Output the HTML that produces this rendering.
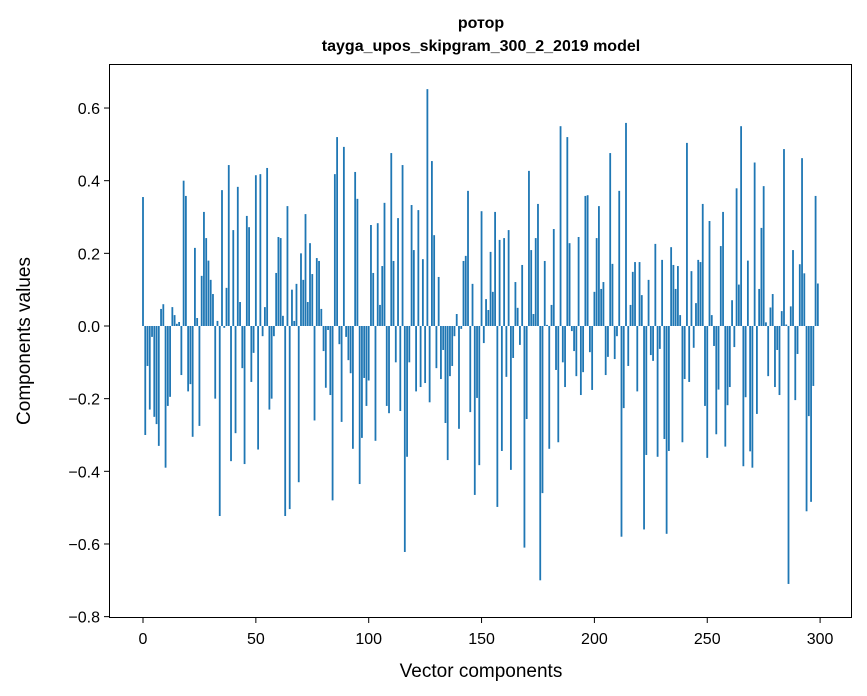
<!DOCTYPE html>
<html><head><meta charset="utf-8"><style>
body{margin:0;background:#fff}
svg{display:block;font-family:"Liberation Sans","Noto Sans CJK JP",sans-serif}
</style></head><body>
<svg id="chart" width="867" height="696">
<text x="481" y="28" text-anchor="middle" font-size="16" font-weight="bold">ротор</text>
<text x="481" y="51" text-anchor="middle" font-size="16" font-weight="bold">tayga_upos_skipgram_300_2_2019 model</text>
<g id="bars"></g>
<g id="xticks"></g>
<g id="yticks"></g>
<rect x="109.5" y="64.5" width="742" height="553" fill="none" stroke="#000" stroke-width="1"/>
<text x="481" y="677" text-anchor="middle" font-size="19">Vector components</text>
<text transform="translate(30,341) rotate(-90)" text-anchor="middle" font-size="19">Components values</text>
</svg>
<script>
const values = [
0.355,-0.30,-0.11,-0.23,-0.03,-0.25,-0.27,-0.33,0.047,0.06,
-0.39,-0.22,-0.195,0.052,0.03,0.006,0.011,-0.135,0.40,0.358,
-0.18,-0.16,-0.305,0.215,0.022,-0.275,0.138,0.314,0.242,0.18,
0.127,0.088,-0.2,0.014,-0.523,0.374,-0.005,0.105,0.443,-0.372,
0.264,-0.295,0.383,0.066,-0.116,-0.38,0.303,0.272,-0.154,-0.074,
0.415,-0.34,0.418,-0.028,0.052,0.435,-0.23,-0.2,-0.028,0.146,
0.245,0.242,0.028,-0.523,0.33,-0.504,0.1,0.014,0.116,-0.43,
0.2,0.127,0.308,0.066,0.228,0.143,-0.26,0.187,0.179,0.047,
-0.069,-0.17,-0.011,-0.19,-0.48,0.418,0.52,-0.05,-0.264,0.493,
-0.03,-0.094,-0.13,-0.338,0.424,0.35,-0.435,-0.308,-0.143,-0.22,
-0.15,0.278,0.146,-0.316,0.283,0.058,0.165,0.339,-0.22,-0.24,
0.476,0.179,-0.1,0.297,-0.234,0.443,-0.622,-0.36,-0.1,0.333,
0.209,-0.18,0.319,-0.168,0.184,-0.157,0.652,-0.21,0.454,0.25,
-0.116,0.135,-0.146,-0.066,-0.267,-0.369,-0.138,-0.11,-0.028,0.033,
-0.283,-0.008,0.179,0.193,0.372,-0.237,0.116,-0.465,-0.198,-0.383,
0.316,-0.047,0.074,0.044,0.204,0.094,0.314,-0.498,0.237,-0.344,
0.242,-0.14,0.264,-0.396,-0.088,0.121,0.05,-0.052,0.168,-0.61,
-0.256,0.427,0.209,0.033,0.242,0.336,-0.70,-0.46,0.179,0.003,
-0.338,0.058,0.267,-0.121,-0.32,0.55,-0.1,-0.168,0.52,0.228,
-0.014,-0.069,-0.138,0.245,-0.19,-0.127,0.358,0.36,-0.072,-0.176,
0.094,0.242,0.33,0.102,0.121,-0.135,-0.085,0.476,0.171,-0.091,
-0.028,0.372,-0.58,-0.226,0.559,-0.11,0.058,0.149,0.176,-0.18,
0.176,0.085,-0.56,-0.355,0.127,-0.08,-0.096,0.226,-0.36,-0.063,
0.182,-0.311,-0.572,-0.344,0.217,0.168,0.102,0.165,0.03,-0.32,
-0.146,0.504,-0.154,0.151,-0.06,0.063,0.182,0.176,0.336,-0.22,
-0.363,0.289,0.03,-0.055,-0.298,-0.175,0.22,0.314,-0.332,-0.218,
-0.168,0.071,-0.058,0.379,0.114,0.55,-0.386,-0.196,0.18,-0.345,
-0.39,0.45,-0.242,0.102,0.27,0.385,0.01,-0.138,0.051,0.088,
-0.168,-0.066,-0.19,0.041,0.487,0.004,-0.71,0.054,0.209,-0.204,
-0.077,0.17,0.462,0.145,-0.51,-0.248,-0.484,-0.165,0.358,0.117
];
const xTickValues = [0,50,100,150,200,250,300];
const yTickValues = [-0.8,-0.6,-0.4,-0.2,0.0,0.2,0.4,0.6];
const yTickLabels = ["\u22120.8","\u22120.6","\u22120.4","\u22120.2","0.0","0.2","0.4","0.6"];

const NS = "http://www.w3.org/2000/svg";
function xScale(i){ return 143 + i * 2.257; }
function yScale(v){ return 326 - v * 363.3; }
const barW = 1.8;
const barsG = document.getElementById('bars');
values.forEach(function(v, i){
  const r = document.createElementNS(NS, 'rect');
  const y0 = yScale(0), y1 = yScale(v);
  r.setAttribute('x', xScale(i) - barW/2);
  r.setAttribute('y', Math.min(y0, y1));
  r.setAttribute('width', barW);
  r.setAttribute('height', Math.max(Math.abs(y1 - y0), 0.3));
  r.setAttribute('fill', '#1f77b4');
  
  
  barsG.appendChild(r);
});
const xg = document.getElementById('xticks');
xTickValues.forEach(function(t){
  const x = xScale(t);
  const l = document.createElementNS(NS, 'line');
  l.setAttribute('x1', x); l.setAttribute('x2', x);
  l.setAttribute('y1', 618); l.setAttribute('y2', 623);
  l.setAttribute('stroke', '#000');
  
  
  xg.appendChild(l);
  const tx = document.createElementNS(NS, 'text');
  tx.setAttribute('x', x); tx.setAttribute('y', 644);
  tx.setAttribute('text-anchor', 'middle');
  tx.setAttribute('font-size', '16');
  tx.textContent = String(t);
  
  
  xg.appendChild(tx);
});
const yg = document.getElementById('yticks');
yTickValues.forEach(function(t, k){
  const y = yScale(t);
  const l = document.createElementNS(NS, 'line');
  l.setAttribute('x1', 104); l.setAttribute('x2', 109.5);
  l.setAttribute('y1', y); l.setAttribute('y2', y);
  l.setAttribute('stroke', '#000');
  
  
  yg.appendChild(l);
  const tx = document.createElementNS(NS, 'text');
  tx.setAttribute('x', 100); tx.setAttribute('y', y + 6);
  tx.setAttribute('text-anchor', 'end');
  tx.setAttribute('font-size', '16');
  tx.textContent = yTickLabels[k];
  
  
  yg.appendChild(tx);
});
</script>
</body></html>
